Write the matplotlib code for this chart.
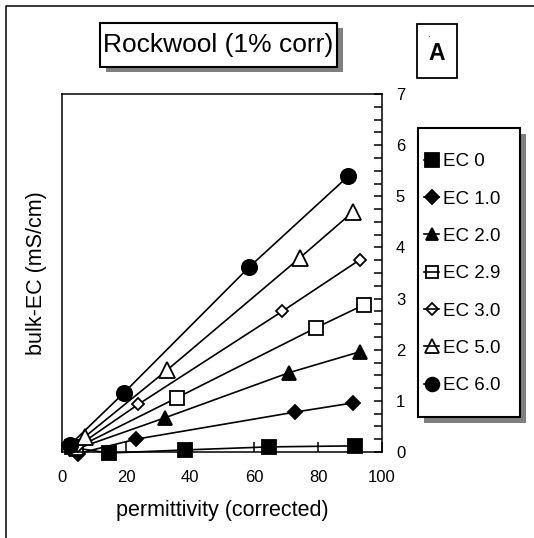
import matplotlib
matplotlib.use("Agg")
import matplotlib.pyplot as plt
from matplotlib.patches import Rectangle
from matplotlib.lines import Line2D
from matplotlib.ticker import MultipleLocator

plt.rcParams['font.family'] = ['Liberation Sans', 'DejaVu Sans']

# values
labels = ['EC 0', 'EC 1.0', 'EC 2.0', 'EC 2.9', 'EC 3.0', 'EC 5.0', 'EC 6.0']
perm_ec0 = [3.0, 14.7, 38.4, 64.7, 91.6]
bulk_ec0 = [0.09, -0.02, 0.04, 0.10, 0.12]
perm_ec1 = [5.0, 23.1, 72.8, 91.0]
bulk_ec1 = [-0.03, 0.25, 0.78, 0.96]
perm_ec2 = [4.5, 32.2, 70.9, 93.1]
bulk_ec2 = [0.06, 0.67, 1.55, 1.96]
perm_ec29 = [4.5, 35.9, 79.4, 94.4]
bulk_ec29 = [0.08, 1.06, 2.43, 2.88]
perm_ec3 = [5.0, 23.8, 68.8, 93.1]
bulk_ec3 = [0.12, 0.93, 2.75, 3.76]
perm_ec5 = [7.2, 32.8, 74.4, 91.0]
bulk_ec5 = [0.30, 1.60, 3.80, 4.70]
perm_ec6 = [2.5, 19.4, 58.4, 89.4]
bulk_ec6 = [0.14, 1.16, 3.61, 5.39]

W, H = 534, 538
fig = plt.figure(figsize=(W / 100, H / 100), dpi=100)


def fx(px):
    return px / W


def fy(py):
    return 1 - py / H


ax = fig.add_axes([fx(62), fy(452), 320 / W, 358 / H])

series = [
    (perm_ec0, bulk_ec0, 's', 'black', 10.5),
    (perm_ec1, bulk_ec1, 'D', 'black', 7.5),
    (perm_ec2, bulk_ec2, '^', 'black', 10),
    (perm_ec29, bulk_ec29, 's', 'white', 9.5),
    (perm_ec3, bulk_ec3, 'D', 'white', 6.5),
    (perm_ec5, bulk_ec5, '^', 'white', 11),
    (perm_ec6, bulk_ec6, 'o', 'black', 11),
]
handles = []
for (xs, ys, mk, fc, ms), lab in zip(series, labels):
    ax.plot(xs, ys, color='black', lw=1.2, marker=mk, ms=ms, mfc=fc,
            mec='black', mew=1.3, clip_on=False)
    handles.append(Line2D([], [], color='black', lw=1.2, marker=mk,
                          ms=ms * 0.9, mew=1.3,
                          mfc='black' if fc == 'black' else 'none',
                          mec='black'))

ax.set_xlim(0, 100)
ax.set_ylim(0, 7)
ax.xaxis.set_major_locator(MultipleLocator(20))
ax.yaxis.set_major_locator(MultipleLocator(1))
ax.yaxis.set_minor_locator(MultipleLocator(0.25))
ax.yaxis.tick_right()
ax.yaxis.set_label_position('left')
ax.tick_params(axis='x', direction='in', length=7, width=1.1, pad=13,
               labelsize=12, top=False)
ax.tick_params(axis='y', which='both', direction='in', length=6, width=1.1,
               pad=10, labelsize=12, left=False, right=True)
for sp in ax.spines.values():
    sp.set_linewidth(1.1)

ax.set_xlabel('permittivity (corrected)', fontsize=15.5)
ax.set_ylabel('bulk-EC (mS/cm)', fontsize=15.5)
ax.xaxis.set_label_coords(0.5, -0.135)
ax.yaxis.set_label_coords(-0.047, 0.5)

# title box with shadow
fig.add_artist(Rectangle((fx(106), fy(72)), 237 / W, 44 / H,
                         transform=fig.transFigure, facecolor='0.5',
                         edgecolor='none', zorder=1))
fig.add_artist(Rectangle((fx(100), fy(67)), 237 / W, 44 / H,
                         transform=fig.transFigure, facecolor='white',
                         edgecolor='black', lw=1.5, zorder=2))
fig.text(fx(218.5), fy(45), 'Rockwool (1% corr)', fontsize=19,
         ha='center', va='center', zorder=3)

# panel letter
fig.add_artist(Rectangle((fx(417), fy(78)), 40 / W, 54 / H,
                         transform=fig.transFigure, facecolor='white',
                         edgecolor='black', lw=1.3, zorder=2))
fig.text(fx(437), fy(53), 'A', fontsize=16.5, fontweight='bold',
         ha='center', va='center', zorder=3)
fig.text(fx(428), fy(34), '.', fontsize=7, ha='center', va='center', zorder=3)

# legend box with shadow, entries placed inside
fig.add_artist(Rectangle((fx(424), fy(423)), 102 / W, 289 / H,
                         transform=fig.transFigure, facecolor='0.5',
                         edgecolor='none', zorder=1))
fig.add_artist(Rectangle((fx(418), fy(417)), 102 / W, 289 / H,
                         transform=fig.transFigure, facecolor='white',
                         edgecolor='black', lw=1.5, zorder=2))
leg = fig.legend(handles, labels, loc='upper left',
                 bbox_to_anchor=(fx(424), fy(153)), fontsize=13.5,
                 frameon=False, handlelength=0.8,
                 handletextpad=0.2, labelspacing=1.08, borderpad=0,
                 borderaxespad=0)
leg.set_zorder(4)

# page frame
fig.add_artist(Line2D([fx(6), fx(6), fx(534)], [0, fy(6), fy(6)],
                      transform=fig.transFigure, color='black', lw=1.1))

fig.savefig('out.png', dpi=100)
